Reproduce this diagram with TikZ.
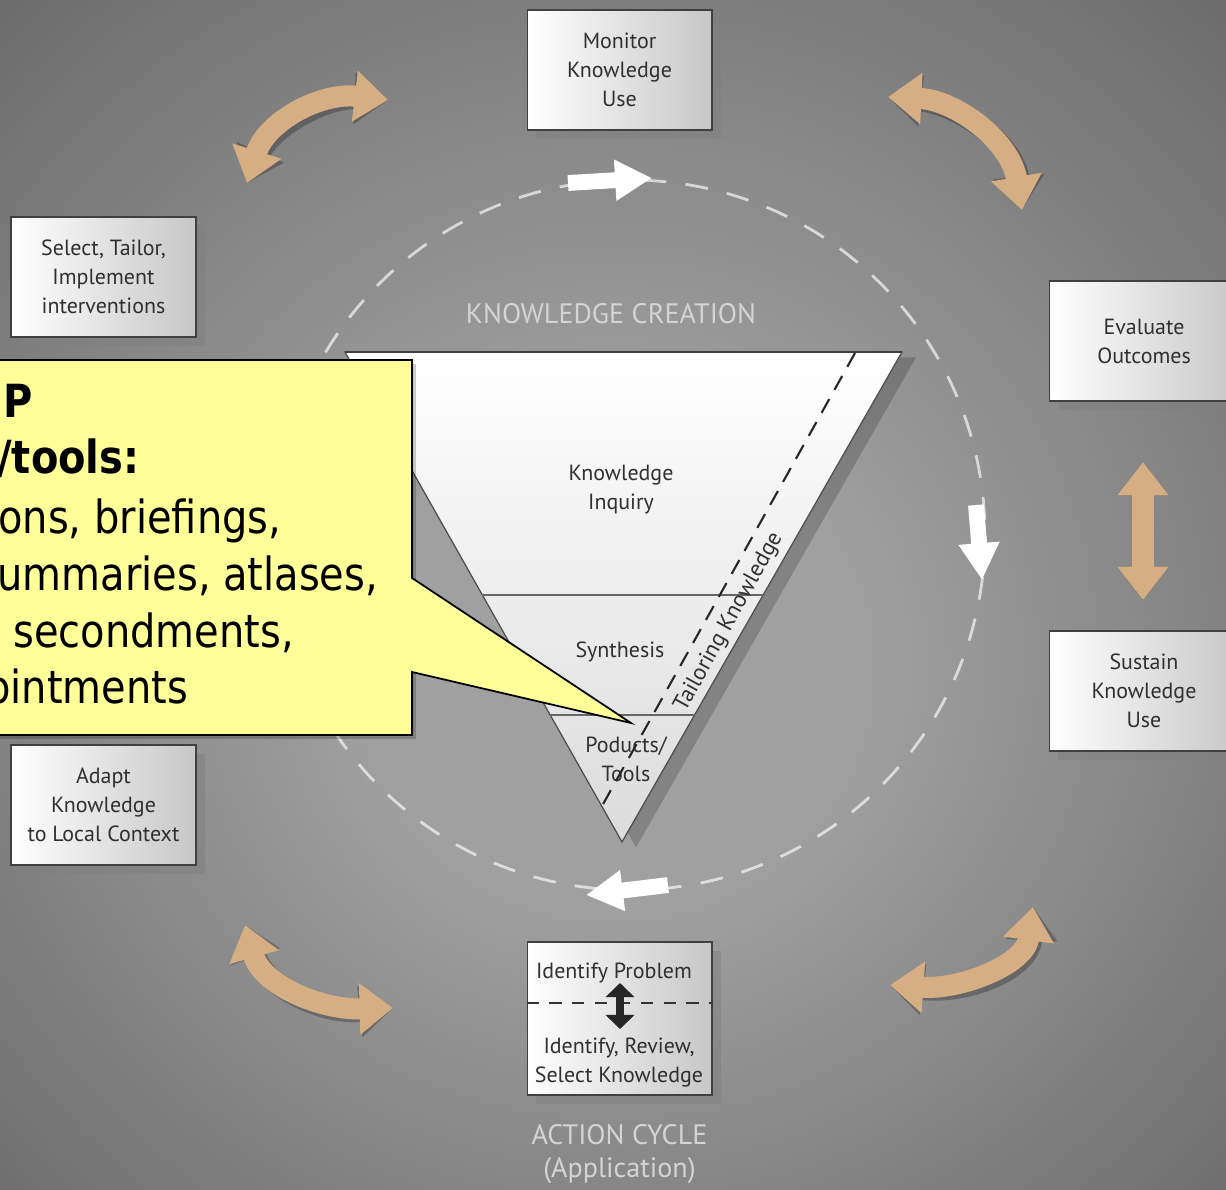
\documentclass[tikz,border=0pt]{standalone}
\usepackage{fontspec}
\setmainfont{PT Sans}
\newfontfamily\notefont[FakeStretch=0.875]{DejaVu Sans}
\usetikzlibrary{shapes,arrows.meta,positioning,shadows,calc,backgrounds}

\definecolor{bgin}{RGB}{160,160,160}
\definecolor{bgout}{RGB}{84,84,84}
\definecolor{armtan}{RGB}{214,174,132}
\definecolor{boxtext}{RGB}{48,48,48}
\definecolor{capgray}{RGB}{212,212,212}
\definecolor{notefill}{RGB}{255,255,153}

\pgfdeclareradialshading{bgshade}{\pgfpoint{0bp}{-4bp}}{color(0bp)=(bgin); color(10bp)=(bgin); color(48bp)=(bgout)}

\begin{document}
\begin{tikzpicture}[
    x=0.02cm, y=-0.02cm,
    stepbox/.style={rectangle, draw=black!75, line width=0.6pt, left color=white, right color=black!22, text=boxtext, align=center, font=\fontsize{12.5}{16.5}\selectfont, minimum width=3.7cm, minimum height=2.4cm, drop shadow={shadow xshift=5pt, shadow yshift=-5pt, opacity=0.5}},
    steptext/.style={text=boxtext, align=center, font=\fontsize{12.5}{16.5}\selectfont},
    caption/.style={text=capgray, align=center, font=\fontsize{16}{19}\selectfont},
    arm/.style={draw=armtan, line width=12pt, {Triangle[length=19pt,width=28pt]}-{Triangle[length=19pt,width=28pt]}},
    armshade/.style={draw=black, opacity=0.25, line width=12pt, {Triangle[length=19pt,width=28pt]}-{Triangle[length=19pt,width=28pt]}, xshift=3pt, yshift=-3pt},
    flow/.style={draw=white, line width=9pt, -{Triangle[length=21pt,width=22pt]}},
    ring/.style={draw=white, opacity=0.65, line width=1.6pt, dash pattern=on 13pt off 11pt},
    notetext/.style={anchor=base west, inner sep=0pt, font=\notefont\fontsize{26}{32}\selectfont}
]

% Background
\useasboundingbox (0,0) rectangle (1226,1189);
\shade[shading=bgshade] (0,0) rectangle (1226,1189);

% Cycle ring
\coordinate (hub) at (630,535);
\draw[ring] (hub) circle[radius=355];

% Action cycle boxes
\node[stepbox] (monitor) at (619.5,70) {Monitor\\Knowledge\\Use};
\node[stepbox] (select) at (103.5,277) {Select, Tailor,\\Implement\\interventions};
\node[stepbox, minimum width=3.8cm] (evaluate) at (1144,341) {Evaluate\\Outcomes};
\node[stepbox, minimum width=3.8cm] (sustain) at (1144,691) {Sustain\\Knowledge\\Use};
\node[stepbox] (adapt) at (103.5,805) {Adapt\\Knowledge\\to Local Context};
\node[stepbox, minimum height=3.06cm] (identify) at (619.5,1018.5) {};
\node[steptext] (problem) at (614,973) {Identify Problem};
\node[steptext] (review) at (619,1063) {Identify, Review,\\Select Knowledge};
\draw[black!80, line width=1pt, dash pattern=on 7pt off 6pt] ([yshift=0.31cm]identify.west) -- ([yshift=0.31cm]identify.east);
\coordinate (ipTop) at (620,983);
\coordinate (ipBot) at (620,1029);
\draw[black!85, line width=5pt, {Triangle[length=8pt,width=16pt]}-{Triangle[length=8pt,width=16pt]}] (ipTop) -- (ipBot);
\node[caption, below=0.45cm of identify] (action) {ACTION CYCLE\\(Application)};

% Curved arrows between boxes
\coordinate (tlA) at (247,183);  \coordinate (tlB) at (388,100);
\coordinate (trA) at (888,97);   \coordinate (trB) at (1022,210);
\coordinate (brA) at (890,985);  \coordinate (brB) at (1033,907);
\coordinate (blA) at (245,925);  \coordinate (blB) at (393,1008);
\coordinate (rtA) at (1143,462); \coordinate (rtB) at (1143,600);
\draw[armshade] (tlA) .. controls (266,122) and (320,92) .. (tlB);
\draw[armshade] (trA) .. controls (955,100) and (1010,140) .. (trB);
\draw[armshade] (brA) .. controls (960,990) and (1025,965) .. (brB);
\draw[armshade] (blA) .. controls (262,985) and (320,1010) .. (blB);
\draw[armshade] (rtA) -- (rtB);
\draw[arm] (tlA) .. controls (266,122) and (320,92) .. (tlB);
\draw[arm] (trA) .. controls (955,100) and (1010,140) .. (trB);
\draw[arm] (brA) .. controls (960,990) and (1025,965) .. (brB);
\draw[arm] (blA) .. controls (262,985) and (320,1010) .. (blB);
\draw[arm] (rtA) -- (rtB);

% Flow on the ring
\coordinate (fTopA) at (568,183); \coordinate (fTopB) at (652,178);
\coordinate (fRgtA) at (976,505); \coordinate (fRgtB) at (982,580);
\coordinate (fBotA) at (668,885); \coordinate (fBotB) at (586,895);
\draw[flow] (fTopA) -- (fTopB);
\draw[flow] (fRgtA) -- (fRgtB);
\draw[flow] (fBotA) -- (fBotB);

% Knowledge creation funnel
\node[caption] (creation) at (611,314) {KNOWLEDGE CREATION};
\coordinate (tl) at (345,352);
\coordinate (tr) at (902,352);
\coordinate (tb) at (622,842);
\fill[black, opacity=0.18] ([xshift=8pt,yshift=-3pt]tl) -- ([xshift=8pt,yshift=-3pt]tr) -- ([xshift=8pt,yshift=-3pt]tb) -- cycle;
\shade[top color=white, bottom color=black!14] (tl) -- (tr) -- (tb) -- cycle;
\draw[black!70, line width=0.7pt] (tl) -- (tr) -- (tb) -- cycle;
\draw[black!75, line width=1.6pt] (tl) -- (tr);
\draw[black!60, line width=1pt] ($(tl)!0.496!(tb)$) -- ($(tr)!0.496!(tb)$);
\draw[black!60, line width=1pt] ($(tl)!0.741!(tb)$) -- ($(tr)!0.741!(tb)$);
\node[steptext] (inquiry) at (621,490) {Knowledge\\Inquiry};
\node[steptext] (synthesis) at (620,652) {Synthesis};
\node[steptext] (products) at (626,759) {Poducts/\\Tools};
\coordinate (tkTop) at (855,353);
\coordinate (tkEnd) at (602,806);
\draw[black!85, line width=1.2pt, dash pattern=on 9pt off 6pt] (tkTop) -- (tkEnd);
\node[steptext, rotate=61, font=\fontsize{13}{15}\selectfont] (tailor) at (729,622) {Tailoring Knowledge};

% Callout
\coordinate (tip) at (631,723);
\fill[black, opacity=0.2] (-60,364) -- (416,364) -- (416,739) -- (-60,739) -- cycle;
\draw[black, line width=1pt, fill=notefill] (-60,360) -- (412,360) -- (412,578) -- (tip) -- (412,672) -- (412,735) -- (-60,735) -- cycle;
\node[notetext, font=\notefont\bfseries\fontsize{26}{32}\selectfont] (cl1) at (3,417) {P};
\node[notetext, font=\notefont\bfseries\fontsize{26}{32}\selectfont] (cl2) at (-3,473) {/tools:};
\node[notetext] (cl3) at (-2,533) {ons, briefings,};
\node[notetext] (cl4) at (-3,590) {ummaries, atlases,};
\node[notetext] (cl5) at (13,647) {secondments,};
\node[notetext] (cl6) at (-14,703) {ointments};

\end{tikzpicture}
\end{document}
